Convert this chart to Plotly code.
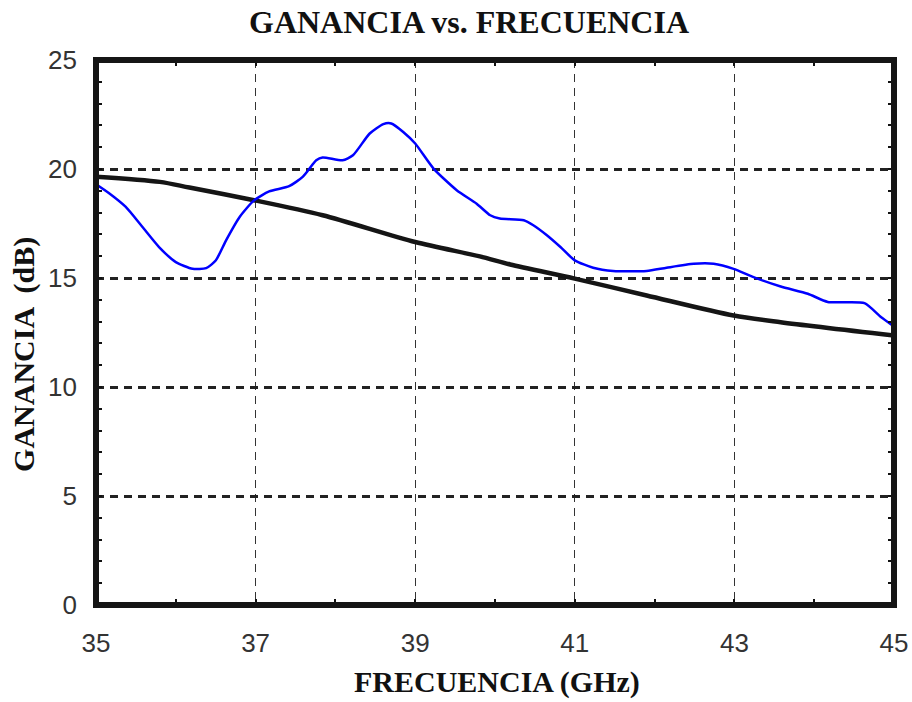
import plotly.graph_objects as go

# Measured gain of the antenna (blue) and reference curve (black), in dB vs GHz
freq_meas = [35.0, 35.16, 35.37, 35.58, 35.79, 36.0, 36.21, 36.38, 36.5, 36.63,
             36.8, 36.98, 37.17, 37.42, 37.59, 37.76, 37.84, 38.09, 38.22, 38.43,
             38.6, 38.7, 38.85, 39.0, 39.23, 39.52, 39.77, 39.94, 40.06, 40.36,
             40.48, 40.65, 40.82, 41.0, 41.23, 41.48, 41.9, 42.15, 42.49, 42.74,
             42.99, 43.24, 43.58, 43.92, 44.17, 44.63, 44.84, 45.0]
gain_meas = [19.3, 18.9, 18.27, 17.35, 16.42, 15.73, 15.42, 15.45, 15.8, 16.73,
             17.8, 18.56, 18.97, 19.21, 19.64, 20.4, 20.53, 20.4, 20.63, 21.63,
             22.06, 22.09, 21.7, 21.17, 20.02, 19.03, 18.41, 17.88, 17.73, 17.65,
             17.42, 16.96, 16.42, 15.81, 15.47, 15.32, 15.32, 15.47, 15.65, 15.65,
             15.42, 15.04, 14.61, 14.28, 13.9, 13.85, 13.2, 12.78]

freq_ref = [35.0, 35.8, 36.17, 36.98, 37.84, 39.0, 39.81, 40.19, 41.0, 41.9,
            42.99, 43.58, 45.0]
gain_ref = [19.65, 19.41, 19.15, 18.57, 17.88, 16.65, 15.99, 15.62, 14.97, 14.2,
            13.28, 12.97, 12.36]

x_ticks = [35, 37, 39, 41, 43, 45]
y_ticks = [0, 5, 10, 15, 20, 25]

TITLE = "GANANCIA vs. FRECUENCIA"
X_TITLE = "FRECUENCIA (GHz)"
Y_TITLE = "GANANCIA  (dB)"

serif = "Liberation Serif"
sans = "Liberation Sans"

fig = go.Figure()
fig.add_trace(go.Scatter(
    x=freq_ref, y=gain_ref, mode="lines",
    line=dict(color="#151515", width=4.5, shape="spline", smoothing=0.8),
    showlegend=False, hoverinfo="x+y",
))
fig.add_trace(go.Scatter(
    x=freq_meas, y=gain_meas, mode="lines",
    line=dict(color="#0000ff", width=2.5, shape="spline", smoothing=0.6),
    showlegend=False, hoverinfo="x+y",
))

tick_font = dict(family=sans, size=26, color="#333333")

fig.update_xaxes(
    range=[35, 45], tickvals=x_ticks, ticktext=[str(v) for v in x_ticks],
    ticks="inside", ticklen=6, tickwidth=2, tickcolor="#111111",
    mirror="ticks", showline=False, zeroline=False, automargin=False,
    showgrid=True, gridcolor="#333333", gridwidth=1, griddash="8px,6px",
    minor=dict(dtick=1, tick0=35, ticks="inside", ticklen=6, tickwidth=2,
               tickcolor="#111111", showgrid=False),
    tickfont=tick_font, ticklabelstandoff=20,
)
fig.update_yaxes(
    range=[0, 25], tickvals=y_ticks, ticktext=[str(v) for v in y_ticks],
    ticks="inside", ticklen=6, tickwidth=2, tickcolor="#111111",
    mirror="ticks", showline=False, zeroline=False, automargin=False,
    showgrid=True, gridcolor="#222222", gridwidth=3, griddash="8px,6px",
    minor=dict(dtick=1, tick0=0, ticks="inside", ticklen=6, tickwidth=2,
               tickcolor="#111111", showgrid=False),
    tickfont=tick_font, ticklabelstandoff=18,
)

# heavy black frame around the plotting area
fig.add_shape(type="rect", xref="paper", yref="paper", x0=0, y0=0, x1=1, y1=1,
              line=dict(color="#151515", width=6), layer="above")

fig.add_annotation(text=X_TITLE, xref="paper", yref="paper", x=0.503, y=-0.142,
                   xanchor="center", yanchor="middle", showarrow=False,
                   font=dict(family=serif, size=30, color="#111111", weight="bold"))
fig.add_annotation(text=Y_TITLE, xref="paper", yref="paper", x=-0.09, y=0.24,
                   xanchor="center", yanchor="bottom", textangle=-90, showarrow=False,
                   font=dict(family=serif, size=30, color="#111111", weight="bold"))

fig.update_layout(
    width=912, height=702,
    margin=dict(l=96, r=18, t=60, b=97, autoexpand=False),
    paper_bgcolor="white", plot_bgcolor="white",
    title=dict(text=TITLE, x=469 / 912, xanchor="center", xref="container",
               y=1 - 22 / 702, yanchor="middle", yref="container",
               font=dict(family=serif, size=32, color="#111111", weight="bold")),
)

fig.write_html("out.html")
